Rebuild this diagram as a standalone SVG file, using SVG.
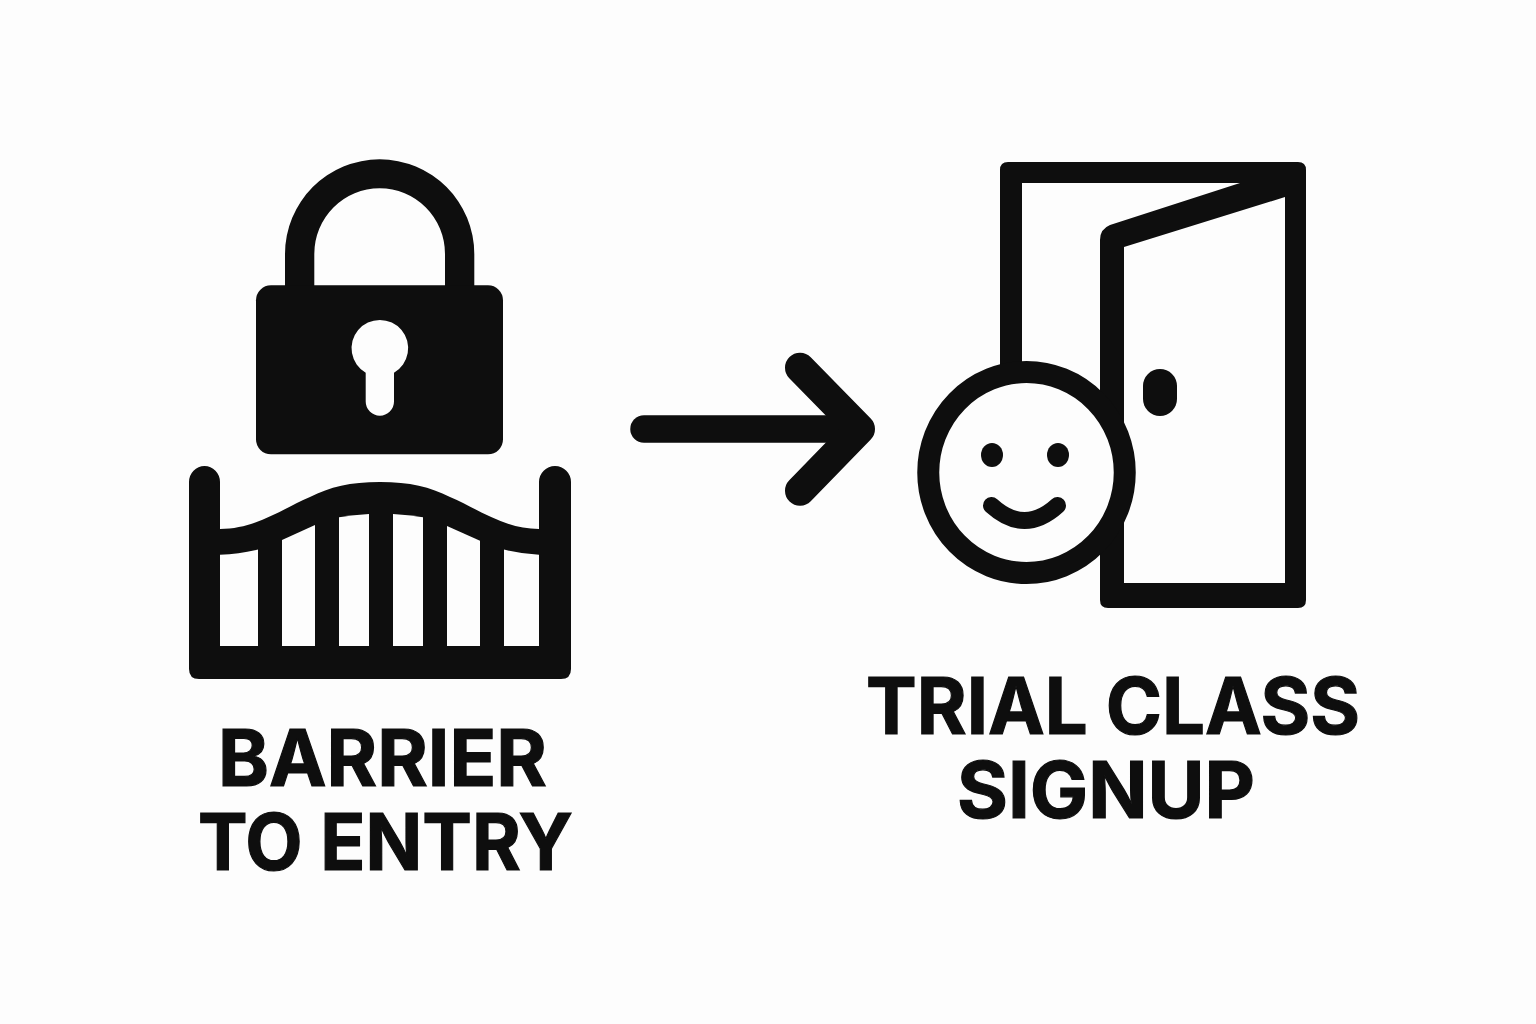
<svg xmlns="http://www.w3.org/2000/svg" width="1536" height="1024" viewBox="0 0 1536 1024">
<style>
.t{font-family:"Inter","Liberation Sans",sans-serif;font-weight:700;font-size:78px;fill:#0e0e0e;stroke:#0e0e0e;stroke-width:1.200px}
.s{fill:none;stroke:#0e0e0e;stroke-linecap:round;stroke-linejoin:round}
.k{fill:#0e0e0e}
.w{fill:#fdfdfd}
</style>
<rect width="1536" height="1024" fill="#fdfdfd"/>
<g id="lock">
<path class="k" d="M285 290V254A94.650 94.700 0 0 1 474.300 254V290H445V254A65.350 65.700 0 0 0 314.300 254V290Z"/>
<rect class="k" x="256" y="285.300" width="247" height="169" rx="15"/>
<path class="w" d="M365.700 372.700A28.300 28.300 0 1 1 394 372.700V401.500A14.150 14.150 0 0 1 365.700 401.500Z"/>
</g>
<g id="gate">
<path class="k" d="M189 482A15.500 16 0 0 1 220 482V529C255 529 280 510 310 497C330 487 350 482 380 482C410 482 430 487 450 497C480 510 505 529 539 529V482A16 16 0 0 1 571 482V669Q571 679 561 679H199Q189 679 189 669Z"/>
<g class="w">
<path d="M220 554.700Q240 554 258 549.500V646H220Z"/>
<path d="M282 540L315 525V646H282Z"/>
<path d="M339 517.300Q354 515 369 514V646H339Z"/>
<path d="M393 514Q408 515 423 517.300V646H393Z"/>
<path d="M447 526L480 540.700V646H447Z"/>
<path d="M504 549.500Q522 554 539 554.700V646H504Z"/>
</g>
</g>
<g id="connectors">
<path class="s" stroke-width="27.500" d="M644 429H850"/>
<path class="s" stroke-width="30" d="M800 367.700L860 429L800 490.700"/>
</g>
<g id="door">
<path class="k" fill-rule="evenodd" d="M1000 170Q1000 162 1008 162H1298Q1306 162 1306 170V600Q1306 608 1298 608H1108Q1100 608 1100 600V470H1000ZM1022 183H1240L1110 225Q1100 229 1100 240V470H1022ZM1124 247L1285 197V583H1124Z"/>
<rect class="k" x="1143" y="369" width="34" height="47" rx="17"/>
</g>
<g id="face">
<ellipse cx="1026.500" cy="472.500" rx="98.250" ry="100.500" fill="#fdfdfd" stroke="#0e0e0e" stroke-width="22"/>
<ellipse class="k" cx="992" cy="455" rx="11" ry="12"/>
<ellipse class="k" cx="1058" cy="455" rx="11" ry="12"/>
<path class="s" stroke-width="17" d="M991.500 505.500Q1024.500 535.500 1057.500 505.500"/>
</g>
<text class="t" x="218" y="785.500" textLength="329" lengthAdjust="spacingAndGlyphs">BARRIER</text>
<text class="t" x="198" y="870" textLength="375" lengthAdjust="spacingAndGlyphs">TO ENTRY</text>
<text class="t" x="866" y="734" textLength="494" lengthAdjust="spacingAndGlyphs">TRIAL CLASS</text>
<text class="t" x="957" y="818" textLength="298" lengthAdjust="spacingAndGlyphs">SIGNUP</text>
</svg>
